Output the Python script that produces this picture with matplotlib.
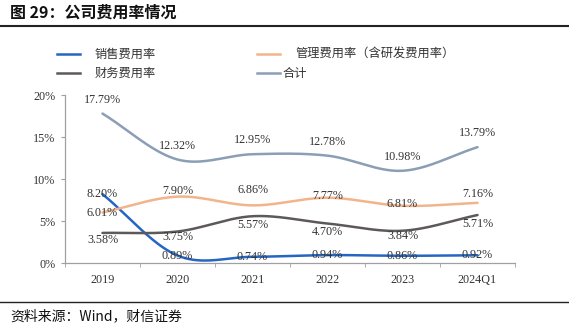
import numpy as np
import matplotlib
matplotlib.use("Agg")
import matplotlib.pyplot as plt
from matplotlib.lines import Line2D

plt.rcParams['font.family'] = ['Liberation Serif', 'Noto Sans CJK SC']

categories = ["2019", "2020", "2021", "2022", "2023", "2024Q1"]
sales = [8.20, 0.89, 0.74, 0.94, 0.86, 0.92]
mgmt = [6.01, 7.90, 6.86, 7.77, 6.81, 7.16]
finance = [3.58, 3.75, 5.57, 4.70, 3.84, 5.71]
total = [17.79, 12.32, 12.95, 12.78, 10.98, 13.79]
yticks = [0, 5, 10, 15, 20]
ytick_labels = ["0%", "5%", "10%", "15%", "20%"]

series_names = ["销售费用率", "管理费用率（含研发费用率）", "财务费用率", "合计"]
colors = ["#2566C4", "#F2B48C", "#5E5959", "#8C9EB5"]
# label offsets in pixels (dy) per series
label_dy = [
    [0, 0, 0, 0, 0, 0],
    [0, 6, 15, 2, 2, 9],
    [-7, -5, -9, -8, -5, -9],
    [14, 14, 14, 14, 14, 14],
]

W, H = 569, 329
fig = plt.figure(figsize=(W / 100, H / 100), dpi=100)
ax = fig.add_axes([65 / W, 1 - 263 / H, 450 / W, 168 / H])

x = np.arange(len(categories))
ax.set_xlim(-0.5, len(categories) - 0.5)
ax.set_ylim(0, 20)

# pixel scale for smoothing
sx, sy = 75.0, 8.4


def catmull(xs, ys, n=40):
    px = np.asarray(xs, float) * sx
    py = np.asarray(ys, float) * sy
    P = np.column_stack([px, py])
    P = np.vstack([P[0] - (P[1] - P[0]), P, P[-1] + (P[-1] - P[-2])])
    out = []
    for i in range(1, len(P) - 2):
        p0, p1, p2, p3 = P[i - 1], P[i], P[i + 1], P[i + 2]
        t = np.linspace(0, 1, n)[:, None]
        seg = 0.5 * ((2 * p1) + (-p0 + p2) * t + (2 * p0 - 5 * p1 + 4 * p2 - p3) * t ** 2
                     + (-p0 + 3 * p1 - 3 * p2 + p3) * t ** 3)
        out.append(seg if i == 1 else seg[1:])
    out = np.vstack(out)
    return out[:, 0] / sx, out[:, 1] / sy


all_series = [sales, mgmt, finance, total]
order = [3, 1, 2, 0]
for k in order:
    vals = all_series[k]
    xs, ys = catmull(x, vals)
    ax.plot(xs, ys, color=colors[k], lw=1.8, solid_capstyle='round', zorder=2 + k)

for k in order:
    vals = all_series[k]
    for i, v in enumerate(vals):
        ax.annotate(f"{v:.2f}%", (x[i], v), xytext=(0, label_dy[k][i]),
                    textcoords='offset pixels', ha='center', va='center',
                    fontsize=8.7, color='#333333', zorder=10)

ax.set_yticks(yticks)
ax.set_yticklabels(ytick_labels)
ax.set_xticks(x)
ax.set_xticklabels(categories)
ax.set_xticks(np.arange(-0.5, len(categories)), minor=True)
ax.tick_params(axis='x', which='major', length=0, pad=8, labelsize=8.7, colors='#333333')
ax.tick_params(axis='x', which='minor', length=3, color='#A0A0A0', direction='out')
ax.tick_params(axis='y', length=3, color='#A0A0A0', pad=4, labelsize=8.7, colors='#333333')
for s in ['top', 'right']:
    ax.spines[s].set_visible(False)
for s in ['left', 'bottom']:
    ax.spines[s].set_color('#A0A0A0')
    ax.spines[s].set_linewidth(0.9)


def fx(px):
    return px / W


def fy(py):
    return 1 - py / H


# legend
leg = [(57, 54, 95), (257, 54, 295), (57, 73, 95), (257, 73, 283)]
for k, (lx, ly, tx) in enumerate(leg):
    fig.add_artist(Line2D([fx(lx), fx(lx + 23)], [fy(ly), fy(ly)], color=colors[k], lw=1.8))
    fig.text(fx(tx), fy(ly), series_names[k], fontsize=8.8, va='center', ha='left',
             color='#333333', family=['Noto Sans CJK SC', 'Liberation Serif'])

# title and rules
fig.text(fx(10), fy(13), "图 29：公司费用率情况", fontsize=11.5, fontweight='bold', va='center',
         ha='left', color='#111111', family=['Noto Sans CJK SC', 'Liberation Serif'])
fig.add_artist(Line2D([0, 1], [fy(25.5), fy(25.5)], color='#222222', lw=1.5))
fig.add_artist(Line2D([0, 1], [fy(301.5), fy(301.5)], color='#222222', lw=1.0))
fig.text(fx(10), fy(316), "资料来源：Wind，财信证券", fontsize=10, style='italic', va='center',
         ha='left', color='#111111', family=['Noto Sans CJK SC', 'Liberation Serif'])

fig.savefig("out.png", dpi=100)
